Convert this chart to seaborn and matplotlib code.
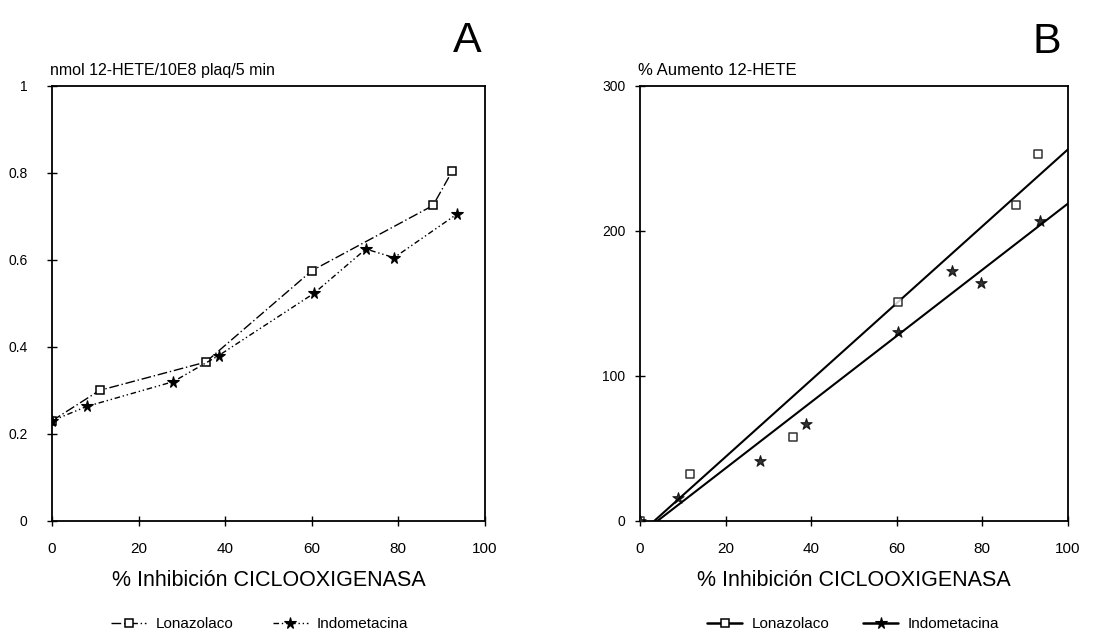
import matplotlib
matplotlib.use("Agg")
import matplotlib.pyplot as plt
import seaborn as sns
import pandas as pd
from matplotlib.lines import Line2D

sns.set_theme(style="ticks")
plt.rcParams["font.family"] = ["Liberation Sans", "DejaVu Sans"]
plt.rcParams["text.color"] = "black"
plt.rcParams["axes.labelcolor"] = "black"

# Panel A: 12-HETE production vs cyclooxygenase inhibition
a_lona_x = [0, 11, 35.5, 60, 88, 92.5]
a_lona_y = [0.23, 0.30, 0.365, 0.575, 0.725, 0.805]
a_indo_x = [0, 8, 28, 38.5, 60.5, 72.5, 79, 93.5]
a_indo_y = [0.23, 0.263, 0.32, 0.38, 0.523, 0.625, 0.605, 0.705]

# Panel B: % increase of 12-HETE vs cyclooxygenase inhibition
b_lona_x = [0, 11.7, 35.8, 60.3, 88, 93]
b_lona_y = [0, 32, 58, 151, 218, 253]
b_indo_x = [0, 8.9, 28, 38.8, 60.3, 73, 79.7, 93.5]
b_indo_y = [0, 16, 41, 67, 130, 172, 164, 207]

series = ["Lonazolaco", "Indometacina"]
x_ticks = [0, 20, 40, 60, 80, 100]
a_yticks = [0, 0.2, 0.4, 0.6, 0.8, 1.0]
a_ylabels = ["0", "0.2", "0.4", "0.6", "0.8", "1"]
b_yticks = [0, 100, 200, 300]
b_ylabels = ["0", "100", "200", "300"]

xlabel = "% Inhibición CICLOOXIGENASA"
a_units = "nmol 12-HETE/10E8 plaq/5 min"
b_units = "% Aumento 12-HETE"

df_a = pd.concat([
    pd.DataFrame({"x": a_lona_x, "y": a_lona_y, "serie": series[0]}),
    pd.DataFrame({"x": a_indo_x, "y": a_indo_y, "serie": series[1]}),
])

fig = plt.figure(figsize=(11.2, 6.36), dpi=100)
ax_a = fig.add_axes([0.0464, 0.181, 0.3866, 0.684])
ax_b = fig.add_axes([0.5714, 0.181, 0.382, 0.684])

marker_style = {
    series[0]: dict(marker="s", mfc="white", mec="black", ms=6, mew=1.1),
    series[1]: dict(marker="*", mfc="black", mec="black", ms=8.5, mew=0.8),
}
dash_a = {series[0]: (0, (7, 2, 1, 2)), series[1]: (0, (4, 2, 1, 2, 1, 2))}

# --- Panel A: connected points
for name in series:
    sub = df_a[df_a["serie"] == name]
    sns.lineplot(data=sub, x="x", y="y", ax=ax_a, color="black", lw=1.0,
                 linestyle=dash_a[name], sort=False, estimator=None,
                 legend=False, **marker_style[name])

ax_a.set_xlim(0, 100)
ax_a.set_ylim(0, 1.0)
ax_a.set_xticks(x_ticks)
ax_a.set_yticks(a_yticks)
ax_a.set_yticklabels(a_ylabels)
ax_a.set_ylabel("")
ax_a.text(-0.005, 1.018, a_units, transform=ax_a.transAxes,
          fontsize=11.5, ha="left", va="bottom")
ax_a.text(0.96, 1.078, "A", transform=ax_a.transAxes, fontsize=31,
          ha="center", va="baseline")

# --- Panel B: linear fits
ax_b.set_xlim(0, 100)
for name, xs, ys in [(series[0], b_lona_x, b_lona_y),
                     (series[1], b_indo_x, b_indo_y)]:
    ms = marker_style[name]
    sns.regplot(x=xs, y=ys, ax=ax_b, ci=None, truncate=False,
                marker=ms["marker"],
                scatter_kws=dict(s=ms["ms"] ** 2, facecolors=ms["mfc"],
                                 edgecolors=ms["mec"], linewidths=ms["mew"],
                                 zorder=3),
                line_kws=dict(color="black", lw=1.5))
ax_b.set_xlim(0, 100)
ax_b.set_ylim(0, 300)
ax_b.set_xticks(x_ticks)
ax_b.set_yticks(b_yticks)
ax_b.set_yticklabels(b_ylabels)
ax_b.set_ylabel("")
ax_b.text(-0.005, 1.018, b_units, transform=ax_b.transAxes,
          fontsize=12, ha="left", va="bottom")
ax_b.text(0.951, 1.076, "B", transform=ax_b.transAxes, fontsize=31,
          ha="center", va="baseline")

for ax, ypad in ((ax_a, 14), (ax_b, 7)):
    for sp in ax.spines.values():
        sp.set_visible(True)
        sp.set_color("black")
        sp.set_linewidth(1.3)
    ax.tick_params(direction="inout", length=7, width=1, colors="black")
    ax.tick_params(axis="x", labelsize=11, pad=12)
    ax.tick_params(axis="y", labelsize=10, pad=ypad)
    ax.set_xlabel(xlabel, fontsize=15.5, labelpad=10, color="black")
    ax.grid(False)
    ax.set_facecolor("white")

# Legends beneath each panel
def legend_handles(styles):
    return [Line2D([0], [0], color="black", lw=lw, linestyle=ls,
                   **marker_style[n]) for n, ls, lw in styles]

ax_a.legend(handles=legend_handles([(series[0], dash_a[series[0]], 1.0),
                                    (series[1], dash_a[series[1]], 1.0)]),
            labels=series, loc="center", bbox_to_anchor=(0.48, -0.237),
            ncol=2, frameon=False, fontsize=11, handlelength=2.3,
            handletextpad=0.6, columnspacing=2.6, borderpad=0.1,
            labelcolor="black")
ax_b.legend(handles=legend_handles([(series[0], "-", 1.8),
                                    (series[1], "-", 1.8)]),
            labels=series, loc="center", bbox_to_anchor=(0.498, -0.237),
            ncol=2, frameon=False, fontsize=11, handlelength=2.3,
            handletextpad=0.6, columnspacing=2.2, borderpad=0.1,
            labelcolor="black")

fig.savefig("out.png", dpi=100, facecolor="white")
